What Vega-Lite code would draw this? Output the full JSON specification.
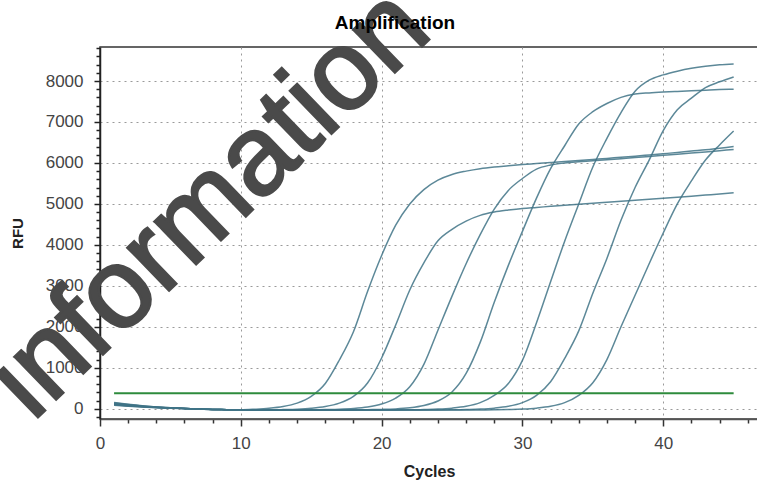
{
  "$schema": "https://vega.github.io/schema/vega-lite/v6.json",
  "autosize": {"type": "none"},
  "padding": {"left": 100, "top": 47, "right": 0, "bottom": 62},
  "width": 658,
  "height": 372,
  "background": "white",
  "config": {
    "view": {"stroke": "#333333", "strokeWidth": 1.5},
    "font": "Liberation Sans"
  },
  "title": {"text": "Amplification", "font": "Liberation Sans", "fontSize": 19, "fontWeight": "bold", "color": "#000000", "anchor": "middle", "dx": -34, "dy": 76, "offset": 12},
  "datasets": {
    "curves": [
      {"series":"A","cycle":1,"rfu":150},{"series":"A","cycle":2,"rfu":108},{"series":"A","cycle":3,"rfu":72},{"series":"A","cycle":4,"rfu":45},{"series":"A","cycle":5,"rfu":24},{"series":"A","cycle":6,"rfu":9},{"series":"A","cycle":7,"rfu":-8},{"series":"A","cycle":8,"rfu":-17},{"series":"A","cycle":9,"rfu":-23},{"series":"A","cycle":10,"rfu":-25},{"series":"A","cycle":11,"rfu":-12},{"series":"A","cycle":12,"rfu":10},{"series":"A","cycle":13,"rfu":53},{"series":"A","cycle":14,"rfu":137},{"series":"A","cycle":15,"rfu":303},{"series":"A","cycle":16,"rfu":616},{"series":"A","cycle":17,"rfu":1190},{"series":"A","cycle":18,"rfu":1880},{"series":"A","cycle":19,"rfu":2860},{"series":"A","cycle":20,"rfu":3740},{"series":"A","cycle":21,"rfu":4480},{"series":"A","cycle":22,"rfu":5000},{"series":"A","cycle":23,"rfu":5350},{"series":"A","cycle":24,"rfu":5580},{"series":"A","cycle":25,"rfu":5720},{"series":"A","cycle":26,"rfu":5800},{"series":"A","cycle":27,"rfu":5860},{"series":"A","cycle":28,"rfu":5900},{"series":"A","cycle":29,"rfu":5930},{"series":"A","cycle":30,"rfu":5960},{"series":"A","cycle":31,"rfu":5985},{"series":"A","cycle":32,"rfu":6010},{"series":"A","cycle":33,"rfu":6035},{"series":"A","cycle":34,"rfu":6060},{"series":"A","cycle":35,"rfu":6085},{"series":"A","cycle":36,"rfu":6110},{"series":"A","cycle":37,"rfu":6140},{"series":"A","cycle":38,"rfu":6165},{"series":"A","cycle":39,"rfu":6195},{"series":"A","cycle":40,"rfu":6225},{"series":"A","cycle":41,"rfu":6255},{"series":"A","cycle":42,"rfu":6290},{"series":"A","cycle":43,"rfu":6320},{"series":"A","cycle":44,"rfu":6360},{"series":"A","cycle":45,"rfu":6400},
      {"series":"B","cycle":1,"rfu":125},{"series":"B","cycle":2,"rfu":90},{"series":"B","cycle":3,"rfu":60},{"series":"B","cycle":4,"rfu":38},{"series":"B","cycle":5,"rfu":20},{"series":"B","cycle":6,"rfu":8},{"series":"B","cycle":7,"rfu":-8},{"series":"B","cycle":8,"rfu":-17},{"series":"B","cycle":9,"rfu":-23},{"series":"B","cycle":10,"rfu":-27},{"series":"B","cycle":11,"rfu":-30},{"series":"B","cycle":12,"rfu":-28},{"series":"B","cycle":13,"rfu":-20},{"series":"B","cycle":14,"rfu":-9},{"series":"B","cycle":15,"rfu":12},{"series":"B","cycle":16,"rfu":53},{"series":"B","cycle":17,"rfu":137},{"series":"B","cycle":18,"rfu":303},{"series":"B","cycle":19,"rfu":628},{"series":"B","cycle":20,"rfu":1240},{"series":"B","cycle":21,"rfu":2045},{"series":"B","cycle":22,"rfu":2900},{"series":"B","cycle":23,"rfu":3560},{"series":"B","cycle":24,"rfu":4100},{"series":"B","cycle":25,"rfu":4380},{"series":"B","cycle":26,"rfu":4580},{"series":"B","cycle":27,"rfu":4720},{"series":"B","cycle":28,"rfu":4800},{"series":"B","cycle":29,"rfu":4850},{"series":"B","cycle":30,"rfu":4890},{"series":"B","cycle":31,"rfu":4915},{"series":"B","cycle":32,"rfu":4940},{"series":"B","cycle":33,"rfu":4965},{"series":"B","cycle":34,"rfu":4990},{"series":"B","cycle":35,"rfu":5015},{"series":"B","cycle":36,"rfu":5040},{"series":"B","cycle":37,"rfu":5065},{"series":"B","cycle":38,"rfu":5090},{"series":"B","cycle":39,"rfu":5115},{"series":"B","cycle":40,"rfu":5140},{"series":"B","cycle":41,"rfu":5165},{"series":"B","cycle":42,"rfu":5190},{"series":"B","cycle":43,"rfu":5215},{"series":"B","cycle":44,"rfu":5240},{"series":"B","cycle":45,"rfu":5270},
      {"series":"C","cycle":1,"rfu":105},{"series":"C","cycle":2,"rfu":76},{"series":"C","cycle":3,"rfu":50},{"series":"C","cycle":4,"rfu":32},{"series":"C","cycle":5,"rfu":17},{"series":"C","cycle":6,"rfu":6},{"series":"C","cycle":7,"rfu":-8},{"series":"C","cycle":8,"rfu":-17},{"series":"C","cycle":9,"rfu":-23},{"series":"C","cycle":10,"rfu":-27},{"series":"C","cycle":11,"rfu":-30},{"series":"C","cycle":12,"rfu":-30},{"series":"C","cycle":13,"rfu":-30},{"series":"C","cycle":14,"rfu":-30},{"series":"C","cycle":15,"rfu":-28},{"series":"C","cycle":16,"rfu":-21},{"series":"C","cycle":17,"rfu":-12},{"series":"C","cycle":18,"rfu":6},{"series":"C","cycle":19,"rfu":42},{"series":"C","cycle":20,"rfu":115},{"series":"C","cycle":21,"rfu":260},{"series":"C","cycle":22,"rfu":537},{"series":"C","cycle":23,"rfu":1083},{"series":"C","cycle":24,"rfu":1917},{"series":"C","cycle":25,"rfu":2750},{"series":"C","cycle":26,"rfu":3540},{"series":"C","cycle":27,"rfu":4250},{"series":"C","cycle":28,"rfu":4875},{"series":"C","cycle":29,"rfu":5330},{"series":"C","cycle":30,"rfu":5620},{"series":"C","cycle":31,"rfu":5850},{"series":"C","cycle":32,"rfu":5950},{"series":"C","cycle":33,"rfu":6000},{"series":"C","cycle":34,"rfu":6030},{"series":"C","cycle":35,"rfu":6055},{"series":"C","cycle":36,"rfu":6080},{"series":"C","cycle":37,"rfu":6105},{"series":"C","cycle":38,"rfu":6130},{"series":"C","cycle":39,"rfu":6160},{"series":"C","cycle":40,"rfu":6185},{"series":"C","cycle":41,"rfu":6210},{"series":"C","cycle":42,"rfu":6240},{"series":"C","cycle":43,"rfu":6270},{"series":"C","cycle":44,"rfu":6300},{"series":"C","cycle":45,"rfu":6330},
      {"series":"D","cycle":1,"rfu":140},{"series":"D","cycle":2,"rfu":101},{"series":"D","cycle":3,"rfu":67},{"series":"D","cycle":4,"rfu":42},{"series":"D","cycle":5,"rfu":22},{"series":"D","cycle":6,"rfu":8},{"series":"D","cycle":7,"rfu":-8},{"series":"D","cycle":8,"rfu":-17},{"series":"D","cycle":9,"rfu":-23},{"series":"D","cycle":10,"rfu":-27},{"series":"D","cycle":11,"rfu":-30},{"series":"D","cycle":12,"rfu":-30},{"series":"D","cycle":13,"rfu":-30},{"series":"D","cycle":14,"rfu":-30},{"series":"D","cycle":15,"rfu":-30},{"series":"D","cycle":16,"rfu":-30},{"series":"D","cycle":17,"rfu":-30},{"series":"D","cycle":18,"rfu":-28},{"series":"D","cycle":19,"rfu":-23},{"series":"D","cycle":20,"rfu":-16},{"series":"D","cycle":21,"rfu":-3},{"series":"D","cycle":22,"rfu":25},{"series":"D","cycle":23,"rfu":80},{"series":"D","cycle":24,"rfu":190},{"series":"D","cycle":25,"rfu":409},{"series":"D","cycle":26,"rfu":861},{"series":"D","cycle":27,"rfu":1620},{"series":"D","cycle":28,"rfu":2600},{"series":"D","cycle":29,"rfu":3500},{"series":"D","cycle":30,"rfu":4330},{"series":"D","cycle":31,"rfu":5140},{"series":"D","cycle":32,"rfu":5860},{"series":"D","cycle":33,"rfu":6420},{"series":"D","cycle":34,"rfu":6950},{"series":"D","cycle":35,"rfu":7250},{"series":"D","cycle":36,"rfu":7450},{"series":"D","cycle":37,"rfu":7600},{"series":"D","cycle":38,"rfu":7680},{"series":"D","cycle":39,"rfu":7710},{"series":"D","cycle":40,"rfu":7730},{"series":"D","cycle":41,"rfu":7745},{"series":"D","cycle":42,"rfu":7760},{"series":"D","cycle":43,"rfu":7775},{"series":"D","cycle":44,"rfu":7790},{"series":"D","cycle":45,"rfu":7800},
      {"series":"E","cycle":1,"rfu":95},{"series":"E","cycle":2,"rfu":68},{"series":"E","cycle":3,"rfu":46},{"series":"E","cycle":4,"rfu":29},{"series":"E","cycle":5,"rfu":15},{"series":"E","cycle":6,"rfu":6},{"series":"E","cycle":7,"rfu":-8},{"series":"E","cycle":8,"rfu":-17},{"series":"E","cycle":9,"rfu":-23},{"series":"E","cycle":10,"rfu":-27},{"series":"E","cycle":11,"rfu":-30},{"series":"E","cycle":12,"rfu":-30},{"series":"E","cycle":13,"rfu":-30},{"series":"E","cycle":14,"rfu":-30},{"series":"E","cycle":15,"rfu":-30},{"series":"E","cycle":16,"rfu":-30},{"series":"E","cycle":17,"rfu":-30},{"series":"E","cycle":18,"rfu":-30},{"series":"E","cycle":19,"rfu":-30},{"series":"E","cycle":20,"rfu":-30},{"series":"E","cycle":21,"rfu":-30},{"series":"E","cycle":22,"rfu":-27},{"series":"E","cycle":23,"rfu":-19},{"series":"E","cycle":24,"rfu":-8},{"series":"E","cycle":25,"rfu":15},{"series":"E","cycle":26,"rfu":59},{"series":"E","cycle":27,"rfu":149},{"series":"E","cycle":28,"rfu":327},{"series":"E","cycle":29,"rfu":616},{"series":"E","cycle":30,"rfu":1180},{"series":"E","cycle":31,"rfu":2100},{"series":"E","cycle":32,"rfu":3100},{"series":"E","cycle":33,"rfu":4090},{"series":"E","cycle":34,"rfu":5000},{"series":"E","cycle":35,"rfu":5900},{"series":"E","cycle":36,"rfu":6600},{"series":"E","cycle":37,"rfu":7230},{"series":"E","cycle":38,"rfu":7750},{"series":"E","cycle":39,"rfu":8020},{"series":"E","cycle":40,"rfu":8150},{"series":"E","cycle":41,"rfu":8240},{"series":"E","cycle":42,"rfu":8310},{"series":"E","cycle":43,"rfu":8360},{"series":"E","cycle":44,"rfu":8395},{"series":"E","cycle":45,"rfu":8415},
      {"series":"F","cycle":1,"rfu":115},{"series":"F","cycle":2,"rfu":83},{"series":"F","cycle":3,"rfu":55},{"series":"F","cycle":4,"rfu":35},{"series":"F","cycle":5,"rfu":18},{"series":"F","cycle":6,"rfu":7},{"series":"F","cycle":7,"rfu":-8},{"series":"F","cycle":8,"rfu":-17},{"series":"F","cycle":9,"rfu":-23},{"series":"F","cycle":10,"rfu":-27},{"series":"F","cycle":11,"rfu":-30},{"series":"F","cycle":12,"rfu":-30},{"series":"F","cycle":13,"rfu":-30},{"series":"F","cycle":14,"rfu":-30},{"series":"F","cycle":15,"rfu":-30},{"series":"F","cycle":16,"rfu":-30},{"series":"F","cycle":17,"rfu":-30},{"series":"F","cycle":18,"rfu":-30},{"series":"F","cycle":19,"rfu":-30},{"series":"F","cycle":20,"rfu":-30},{"series":"F","cycle":21,"rfu":-30},{"series":"F","cycle":22,"rfu":-30},{"series":"F","cycle":23,"rfu":-30},{"series":"F","cycle":24,"rfu":-30},{"series":"F","cycle":25,"rfu":-27},{"series":"F","cycle":26,"rfu":-19},{"series":"F","cycle":27,"rfu":-8},{"series":"F","cycle":28,"rfu":15},{"series":"F","cycle":29,"rfu":59},{"series":"F","cycle":30,"rfu":149},{"series":"F","cycle":31,"rfu":327},{"series":"F","cycle":32,"rfu":660},{"series":"F","cycle":33,"rfu":1230},{"series":"F","cycle":34,"rfu":1900},{"series":"F","cycle":35,"rfu":2820},{"series":"F","cycle":36,"rfu":3670},{"series":"F","cycle":37,"rfu":4600},{"series":"F","cycle":38,"rfu":5400},{"series":"F","cycle":39,"rfu":6070},{"series":"F","cycle":40,"rfu":6790},{"series":"F","cycle":41,"rfu":7300},{"series":"F","cycle":42,"rfu":7580},{"series":"F","cycle":43,"rfu":7840},{"series":"F","cycle":44,"rfu":7980},{"series":"F","cycle":45,"rfu":8100},
      {"series":"G","cycle":1,"rfu":85},{"series":"G","cycle":2,"rfu":61},{"series":"G","cycle":3,"rfu":41},{"series":"G","cycle":4,"rfu":26},{"series":"G","cycle":5,"rfu":14},{"series":"G","cycle":6,"rfu":5},{"series":"G","cycle":7,"rfu":-8},{"series":"G","cycle":8,"rfu":-17},{"series":"G","cycle":9,"rfu":-23},{"series":"G","cycle":10,"rfu":-27},{"series":"G","cycle":11,"rfu":-30},{"series":"G","cycle":12,"rfu":-30},{"series":"G","cycle":13,"rfu":-30},{"series":"G","cycle":14,"rfu":-30},{"series":"G","cycle":15,"rfu":-30},{"series":"G","cycle":16,"rfu":-30},{"series":"G","cycle":17,"rfu":-30},{"series":"G","cycle":18,"rfu":-30},{"series":"G","cycle":19,"rfu":-30},{"series":"G","cycle":20,"rfu":-30},{"series":"G","cycle":21,"rfu":-30},{"series":"G","cycle":22,"rfu":-30},{"series":"G","cycle":23,"rfu":-30},{"series":"G","cycle":24,"rfu":-30},{"series":"G","cycle":25,"rfu":-30},{"series":"G","cycle":26,"rfu":-30},{"series":"G","cycle":27,"rfu":-30},{"series":"G","cycle":28,"rfu":-27},{"series":"G","cycle":29,"rfu":-19},{"series":"G","cycle":30,"rfu":-8},{"series":"G","cycle":31,"rfu":15},{"series":"G","cycle":32,"rfu":59},{"series":"G","cycle":33,"rfu":149},{"series":"G","cycle":34,"rfu":327},{"series":"G","cycle":35,"rfu":636},{"series":"G","cycle":36,"rfu":1200},{"series":"G","cycle":37,"rfu":2000},{"series":"G","cycle":38,"rfu":2770},{"series":"G","cycle":39,"rfu":3540},{"series":"G","cycle":40,"rfu":4290},{"series":"G","cycle":41,"rfu":5000},{"series":"G","cycle":42,"rfu":5560},{"series":"G","cycle":43,"rfu":6070},{"series":"G","cycle":44,"rfu":6440},{"series":"G","cycle":45,"rfu":6780}
    ],
    "threshold": [
      {"cycle": 1, "rfu": 380},
      {"cycle": 45, "rfu": 380}
    ],
    "watermark": [
      {"cycle": 7.8, "rfu": 5000, "label": "information"}
    ]
  },
  "layer": [
    {
      "data": {"name": "curves"},
      "mark": {"type": "line", "interpolate": "monotone", "strokeWidth": 1.5, "color": "#3f7386", "opacity": 0.85},
      "encoding": {
        "x": {
          "field": "cycle", "type": "quantitative",
          "scale": {"domain": [0, 46.73], "nice": false, "zero": false},
          "axis": {
            "title": "Cycles", "titleFont": "Liberation Sans", "titleFontSize": 16, "titleFontWeight": "bold", "titleColor": "#222222", "titlePadding": 12,
            "values": [0,2,4,6,8,10,12,14,16,18,20,22,24,26,28,30,32,34,36,38,40,42,44,46],
            "tickCount": 100,
            "format": "d",
            "labelExpr": "datum.value % 10 === 0 ? datum.label : ''",
            "labelOverlap": false, "labelFlush": false,
            "labelFont": "Liberation Sans", "labelColor": "#444444", "labelPadding": 9,
            "labelFontSize": {"condition": {"test": "datum.value % 10 === 0", "value": 17}, "value": 0},
            "tickColor": "#333333", "tickWidth": 1.5,
            "tickSize": {"condition": {"test": "datum.value % 10 === 0", "value": 7}, "value": 4},
            "domainColor": "#555555", "domainWidth": 1.5,
            "grid": true, "gridColor": "#9a9a9a", "gridDash": [2, 4], "gridWidth": 1,
            "gridOpacity": {"condition": {"test": "datum.value % 10 === 0", "value": 1}, "value": 0}
          }
        },
        "y": {
          "field": "rfu", "type": "quantitative",
          "scale": {"domain": [-250, 8830], "nice": false, "zero": false},
          "axis": {
            "title": "RFU", "titleFont": "Liberation Sans", "titleFontSize": 15, "titleFontWeight": "bold", "titleColor": "#222222", "titlePadding": 20,
            "values": [-200,0,200,400,600,800,1000,1200,1400,1600,1800,2000,2200,2400,2600,2800,3000,3200,3400,3600,3800,4000,4200,4400,4600,4800,5000,5200,5400,5600,5800,6000,6200,6400,6600,6800,7000,7200,7400,7600,7800,8000,8200,8400,8600,8800],
            "tickCount": 100,
            "labelExpr": "datum.value % 1000 === 0 ? datum.label : ''",
            "labelOverlap": false, "labelFlush": false,
            "format": "d",
            "labelFont": "Liberation Sans", "labelColor": "#444444", "labelPadding": 11,
            "labelFontSize": {"condition": {"test": "datum.value % 1000 === 0", "value": 17}, "value": 0},
            "tickColor": "#222222", "tickWidth": 1.5,
            "tickSize": {"condition": {"test": "datum.value % 1000 === 0", "value": 6}, "value": 4},
            "domainColor": "#222222", "domainWidth": 1.5,
            "grid": true, "gridColor": "#9a9a9a", "gridDash": [2, 4], "gridWidth": 1,
            "gridOpacity": {"condition": {"test": "datum.value % 1000 === 0 && datum.value >= 0", "value": 1}, "value": 0}
          }
        },
        "detail": {"field": "series", "type": "nominal"}
      }
    },
    {
      "data": {"name": "threshold"},
      "mark": {"type": "line", "strokeWidth": 2, "color": "#2e8b3c"},
      "encoding": {
        "x": {"field": "cycle", "type": "quantitative"},
        "y": {"field": "rfu", "type": "quantitative"}
      }
    },
    {
      "data": {"name": "watermark"},
      "mark": {"type": "text", "font": "Liberation Sans", "fontSize": 113, "angle": -44, "align": "center", "baseline": "middle", "color": "#4a4a4a", "stroke": "#4a4a4a", "strokeWidth": 2.5},
      "encoding": {
        "x": {"field": "cycle", "type": "quantitative"},
        "y": {"field": "rfu", "type": "quantitative"},
        "text": {"field": "label", "type": "nominal"}
      }
    }
  ]
}
